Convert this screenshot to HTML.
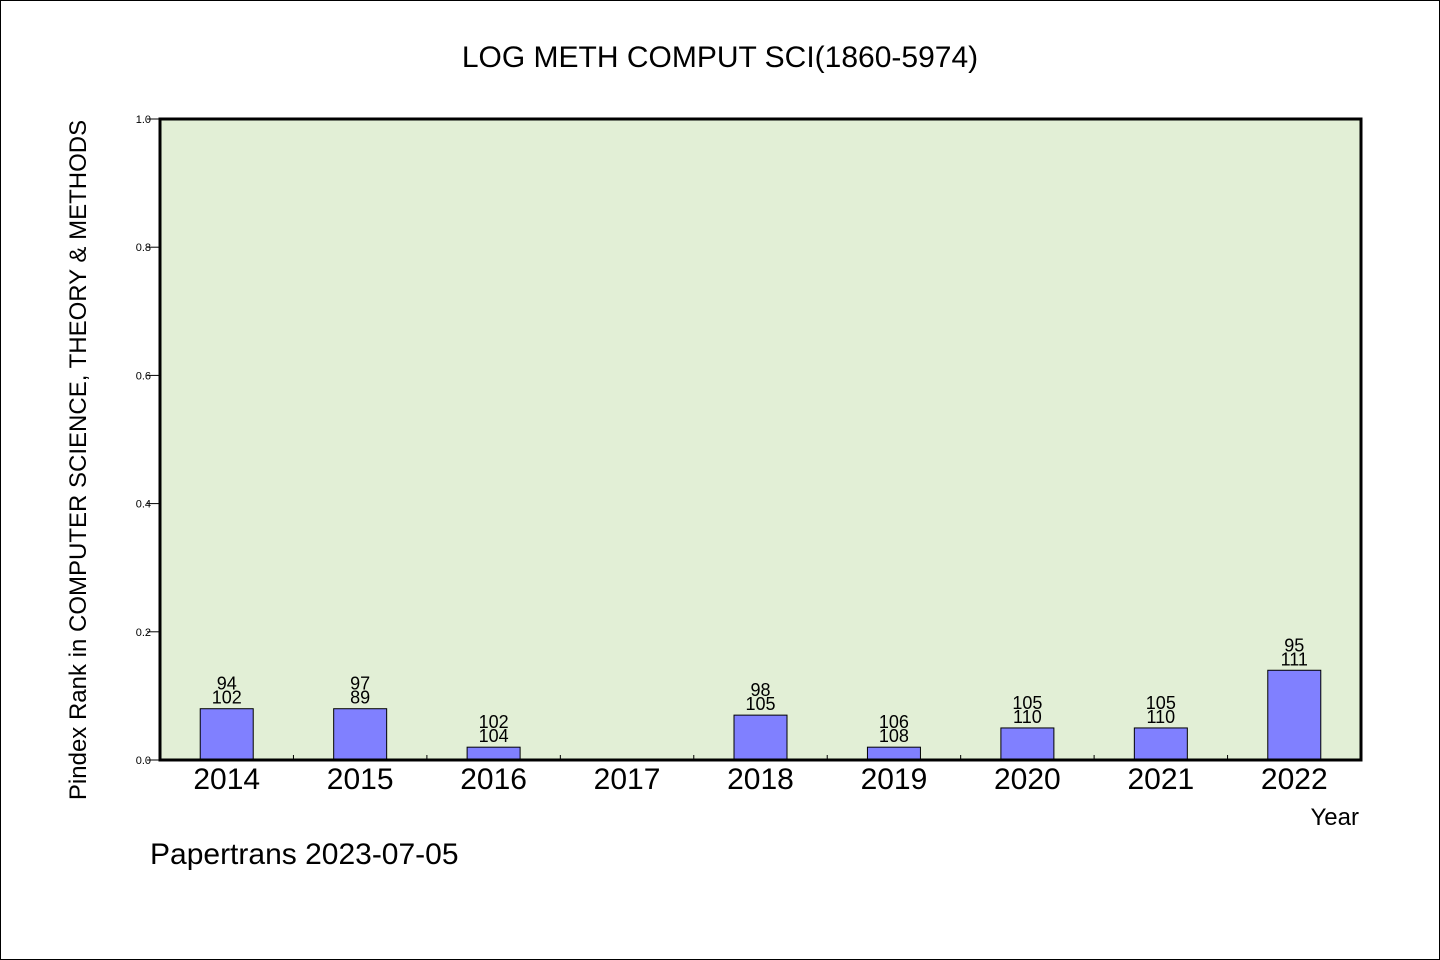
<!DOCTYPE html>
<html><head><meta charset="utf-8"><style>
html,body{margin:0;padding:0;background:#fff}
svg{display:block}
text{font-family:"WenQuanYi Zen Hei","Liberation Sans",sans-serif;fill:#000}
</style></head><body>
<svg id="chart" width="1440" height="960">
<rect x="0.5" y="0.5" width="1439" height="959" fill="#fff" stroke="#000"/>
<text x="720" y="67" font-size="30" text-anchor="middle">LOG METH COMPUT SCI(1860-5974)</text>
<rect x="160" y="119" width="1201" height="641" fill="#e2efd6"/>
<g id="bars"></g>
<g id="yaxis"></g>
<g id="xaxis"></g>
<rect x="160" y="119" width="1201" height="641" fill="none" stroke="#000" stroke-width="3"/>
<text transform="translate(86,460) rotate(-90)" font-size="24" text-anchor="middle">Pindex Rank in COMPUTER SCIENCE, THEORY &amp; METHODS</text>
<text x="1359" y="825" font-size="24" text-anchor="end">Year</text>
<text x="150" y="864" font-size="30">Papertrans 2023-07-05</text>
</svg>
<script>
const categories=["2014","2015","2016","2017","2018","2019","2020","2021","2022"];
const values=[0.08,0.08,0.02,0,0.07,0.02,0.05,0.05,0.14];
const labelTop=["94","97","102","","98","106","105","105","95"];
const labelBottom=["102","89","104","","105","108","110","110","111"];
const yTicks=[0,0.2,0.4,0.6,0.8,1.0];
const NS="http://www.w3.org/2000/svg";
const X0=160,X1=1361,Y0=760,Y1=119;
const band=(X1-X0)/categories.length;
const x=i=>X0+band*i;
const y=v=>Y0-(v)*(Y0-Y1);
function mk(tag,attrs,parent){const e=document.createElementNS(NS,tag);for(const k in attrs)e.setAttribute(k,attrs[k]);parent.appendChild(e);return e;}
const gb=document.getElementById('bars'),gy=document.getElementById('yaxis'),gx=document.getElementById('xaxis');
categories.forEach((c,i)=>{
  const cx=x(i)+band/2;
  if(values[i]>0){
    const r=mk('rect',{x:cx-26.5,y:y(values[i]),width:53,height:Y0-y(values[i]),fill:'#8080ff',stroke:'#000','stroke-width':1},gb);
    
    
  }
  if(labelTop[i]){
    const t1=mk('text',{x:cx,y:y(values[i])-19,'font-size':18,'text-anchor':'middle'},gb);
    t1.textContent=labelTop[i];
    
    
    const t2=mk('text',{x:cx,y:y(values[i])-5,'font-size':18,'text-anchor':'middle'},gb);
    t2.textContent=labelBottom[i];
    
    
  }
  const tl=mk('text',{x:cx,y:789,'font-size':30,'text-anchor':'middle'},gx);
  tl.textContent=c;
  
  
  if(i>0){
    const tk=mk('line',{x1:x(i),x2:x(i),y1:Y0,y2:Y0-5,stroke:'#000','stroke-width':1},gx);
    
    
  }
});
yTicks.forEach(v=>{
  const tk=mk('line',{x1:147,x2:160,y1:y(v),y2:y(v),stroke:'#000','stroke-width':1},gy);
  
  
  const t=mk('text',{x:151,y:y(v)+4,'font-size':11,'text-anchor':'end'},gy);
  t.textContent=v.toFixed(1);
  
  
});
</script>
</body></html>
